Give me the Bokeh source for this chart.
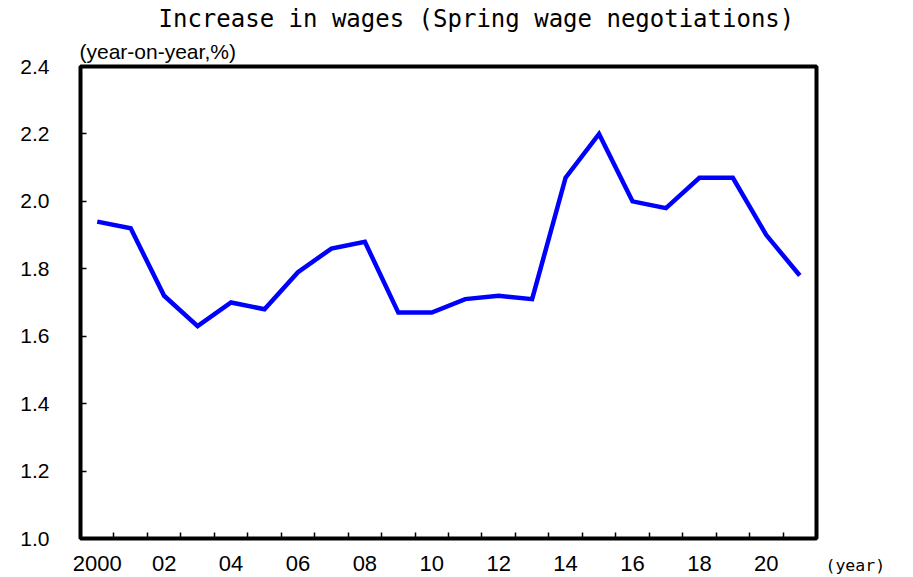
from bokeh.plotting import figure
from bokeh.models import Range1d, FixedTicker, PrintfTickFormatter, Title
from bokeh.embed import file_html
from bokeh.resources import INLINE

years = list(range(2000, 2022))
wage_increase = [1.94, 1.92, 1.72, 1.63, 1.70, 1.68, 1.79, 1.86, 1.88, 1.67, 1.67,
                 1.71, 1.72, 1.71, 2.07, 2.20, 2.00, 1.98, 2.07, 2.07, 1.90, 1.78]
x_label_years = [2000, 2002, 2004, 2006, 2008, 2010, 2012, 2014, 2016, 2018, 2020]
x_tick_labels = ["2000", "02", "04", "06", "08", "10", "12", "14", "16", "18", "20"]
y_ticks = [1.0, 1.2, 1.4, 1.6, 1.8, 2.0, 2.2, 2.4]

title_text = "Increase in wages (Spring wage negotiations)"
unit_text = "(year-on-year,%)"
xunit_text = "(year)"

W, H = 913, 577
p = figure(width=W, height=H, output_backend="svg", toolbar_location=None,
           x_range=Range1d(years[0] - 0.5, years[-1] + 0.5),
           y_range=Range1d(y_ticks[0], y_ticks[-1]),
           min_border_left=80, min_border_right=97, min_border_top=66, min_border_bottom=39)

p.grid.visible = False
p.outline_line_color = "black"
p.outline_line_width = 4
p.background_fill_color = "white"
p.border_fill_color = "white"

xa = p.xaxis[0]
xa.ticker = FixedTicker(ticks=x_label_years, minor_ticks=[y + 0.5 for y in years[:-1]])
xa.major_label_overrides = {y: t for y, t in zip(x_label_years, x_tick_labels)}
xa.axis_line_color = None
xa.major_tick_line_color = None
xa.minor_tick_line_color = "black"
xa.minor_tick_line_width = 1.5
xa.minor_tick_in = 6
xa.minor_tick_out = 0
xa.major_label_standoff = 11
xa.major_label_text_font = "Liberation Sans"
xa.major_label_text_font_size = "22px"
xa.major_label_text_color = "black"
xa.major_label_text_line_height = 1.0

ya = p.yaxis[0]
ya.ticker = FixedTicker(ticks=y_ticks, minor_ticks=[])
ya.formatter = PrintfTickFormatter(format="%.1f")
ya.axis_line_color = None
ya.major_tick_line_color = "black"
ya.major_tick_line_width = 1.5
ya.major_tick_in = 6
ya.major_tick_out = 0
ya.minor_tick_line_color = None
ya.major_label_standoff = 31
ya.major_label_text_font = "Liberation Sans"
ya.major_label_text_font_size = "21px"
ya.major_label_text_color = "black"

p.line(years, wage_increase, line_color="#0000FF", line_width=4.5, line_join="miter")

# main title (outermost in the top panel)
p.title.text = title_text
p.title.align = "left"
p.title.offset = 78
p.title.standoff = 1
p.title.text_font = "DejaVu Sans Mono"
p.title.text_font_size = "24px"
p.title.text_font_style = "normal"
p.title.text_color = "black"

# unit note just above the frame
unit_title = Title(text=unit_text, align="left", offset=-1, standoff=8,
                   text_font="Liberation Sans", text_font_size="21px",
                   text_font_style="normal", text_color="black")
p.add_layout(unit_title, "above")

# x unit note, on the tick-label line to the right of the frame
year_title = Title(text=xunit_text, align="left", offset=745, standoff=-36,
                   vertical_align="top",
                   text_font="DejaVu Sans Mono", text_font_size="16.5px",
                   text_font_style="normal", text_color="black")
p.add_layout(year_title, "below")

open("out.html", "w").write(file_html(p, INLINE))
